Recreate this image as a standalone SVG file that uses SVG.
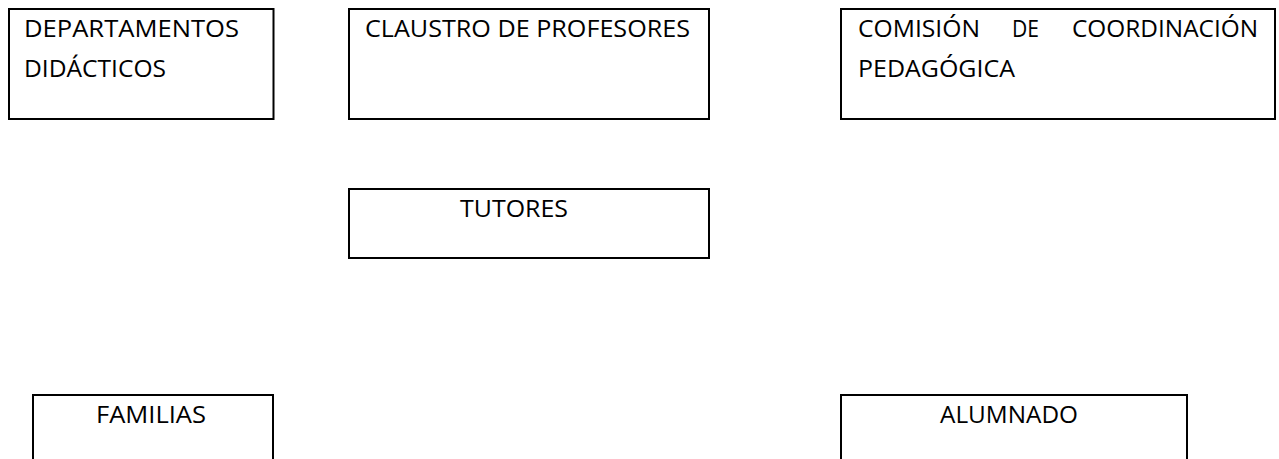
<svg xmlns="http://www.w3.org/2000/svg" width="1279" height="459" viewBox="0 0 1279 459">
<style>
.box{fill:#fff;stroke:#000;stroke-width:2}
.t{font-family:"Open Sans","Noto Sans","Liberation Sans",sans-serif;font-size:23px;fill:#000}
</style>
<rect width="1279" height="459" fill="#fff"/>
<g id="connectors"></g>
<g id="departamentos">
<rect class="box" x="9" y="9" width="264.5" height="110"/>
<text class="t" x="24" y="37" textLength="215" lengthAdjust="spacingAndGlyphs">DEPARTAMENTOS</text>
<text class="t" x="24" y="77" textLength="142" lengthAdjust="spacingAndGlyphs">DIDÁCTICOS</text>
</g>
<g id="claustro">
<rect class="box" x="349" y="9" width="360" height="110"/>
<text class="t" x="365" y="37" textLength="325" lengthAdjust="spacingAndGlyphs">CLAUSTRO DE PROFESORES</text>
</g>
<g id="comision">
<rect class="box" x="841" y="9" width="434" height="110"/>
<text class="t" x="858" y="37" textLength="122" lengthAdjust="spacingAndGlyphs">COMISIÓN</text>
<text class="t" x="1012" y="37" textLength="27" lengthAdjust="spacingAndGlyphs">DE</text>
<text class="t" x="1072" y="37" textLength="186" lengthAdjust="spacingAndGlyphs">COORDINACIÓN</text>
<text class="t" x="858" y="77" textLength="157" lengthAdjust="spacingAndGlyphs">PEDAGÓGICA</text>
</g>
<g id="tutores">
<rect class="box" x="349" y="189" width="360" height="69"/>
<text class="t" x="460" y="217" textLength="108" lengthAdjust="spacingAndGlyphs">TUTORES</text>
</g>
<g id="familias">
<rect class="box" x="33" y="395" width="240" height="80"/>
<text class="t" x="96" y="423" textLength="110" lengthAdjust="spacingAndGlyphs">FAMILIAS</text>
</g>
<g id="alumnado">
<rect class="box" x="841" y="395" width="346" height="80"/>
<text class="t" x="940" y="423" textLength="138" lengthAdjust="spacingAndGlyphs">ALUMNADO</text>
</g>
</svg>
